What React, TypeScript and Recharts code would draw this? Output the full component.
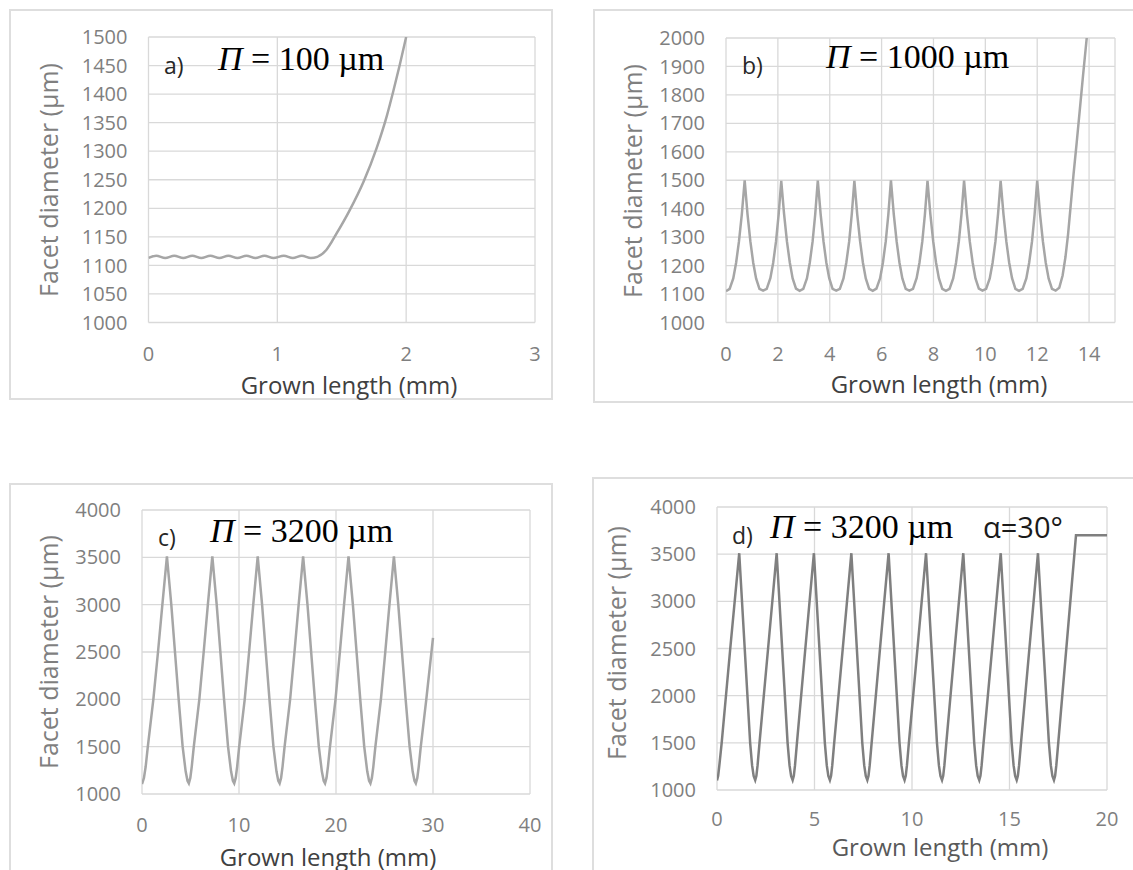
import React from "react";
import { LineChart, Line, XAxis, YAxis, CartesianGrid } from "recharts";

// a) P = 100 um
const aLen = [
  0, 0.06, 0.13, 0.2, 0.27, 0.34, 0.41, 0.48, 0.55, 0.62, 0.69, 0.76, 0.83, 0.9, 0.97, 1.05, 1.12, 1.19, 1.26,
  1.31, 1.38, 1.46, 1.56, 1.67, 1.77, 1.85, 1.9, 1.95, 2.0,
];
const aDia = [
  1113, 1117, 1113, 1117, 1113, 1117, 1113, 1117, 1113, 1117, 1113, 1117, 1113, 1117, 1113, 1117, 1113, 1117, 1113,
  1115, 1127, 1156, 1196, 1247, 1305, 1362, 1405, 1451, 1500,
];

// b) P = 1000 um
const bLen = [
  0, 0.14, 0.28, 0.39, 0.5, 0.61, 0.72, 0.83, 0.94, 1.05, 1.16, 1.29,
  1.43, 1.57, 1.71, 1.82, 1.93, 2.03, 2.13, 2.24, 2.35, 2.46, 2.57, 2.7,
  2.84, 2.98, 3.12, 3.23, 3.34, 3.44, 3.54, 3.65, 3.76, 3.87, 3.98, 4.11,
  4.25, 4.39, 4.53, 4.64, 4.75, 4.85, 4.95, 5.06, 5.17, 5.28, 5.39, 5.52,
  5.66, 5.8, 5.94, 6.05, 6.16, 6.26, 6.36, 6.47, 6.58, 6.69, 6.8, 6.93,
  7.07, 7.21, 7.35, 7.46, 7.57, 7.67, 7.77, 7.88, 7.99, 8.1, 8.21, 8.34,
  8.48, 8.62, 8.76, 8.87, 8.98, 9.08, 9.18, 9.29, 9.4, 9.51, 9.62, 9.75,
  9.89, 10.03, 10.17, 10.28, 10.39, 10.49, 10.59, 10.7, 10.81, 10.92, 11.03, 11.16,
  11.3, 11.44, 11.58, 11.69, 11.8, 11.9, 12.0, 12.11, 12.22, 12.33, 12.44, 12.57,
  12.71, 12.85, 12.98, 13.09, 13.19, 13.29, 13.4, 13.52, 13.64, 13.77, 13.91,
];
const bDia = [
  1110, 1118, 1155, 1210, 1285, 1380, 1500, 1380, 1285, 1210, 1155, 1118,
  1112, 1118, 1156, 1210, 1286, 1380, 1498, 1381, 1285, 1211, 1155, 1119,
  1111, 1118, 1155, 1210, 1285, 1380, 1499, 1380, 1285, 1210, 1156, 1118,
  1112, 1118, 1155, 1211, 1285, 1381, 1498, 1380, 1286, 1210, 1155, 1118,
  1111, 1119, 1155, 1210, 1285, 1380, 1500, 1380, 1285, 1210, 1155, 1118,
  1112, 1118, 1156, 1210, 1285, 1380, 1498, 1381, 1285, 1210, 1155, 1118,
  1111, 1118, 1155, 1210, 1286, 1380, 1499, 1380, 1285, 1211, 1155, 1119,
  1112, 1118, 1155, 1210, 1285, 1381, 1498, 1380, 1285, 1210, 1156, 1118,
  1111, 1118, 1155, 1210, 1285, 1380, 1499, 1380, 1285, 1210, 1155, 1118,
  1112, 1122, 1165, 1230, 1310, 1410, 1520, 1630, 1745, 1870, 2000,
];

// c) P = 3200 um
const cLen = [
  0, 0.2, 0.38, 0.6, 1.17, 1.65, 2.1, 2.57, 3.02, 3.4, 3.78, 4.19, 4.5, 4.69,
  4.83, 4.98, 5.13, 5.34, 5.91, 6.36, 6.79, 7.25, 7.7, 8.08, 8.46, 8.87, 9.18, 9.37,
  9.51, 9.66, 9.81, 10.02, 10.59, 11.04, 11.47, 11.93, 12.38, 12.76, 13.14, 13.55, 13.86, 14.05,
  14.19, 14.34, 14.49, 14.7, 15.27, 15.72, 16.15, 16.61, 17.06, 17.44, 17.82, 18.23, 18.54, 18.73,
  18.87, 19.02, 19.17, 19.38, 19.95, 20.4, 20.83, 21.29, 21.74, 22.12, 22.5, 22.91, 23.22, 23.41,
  23.55, 23.7, 23.85, 24.06, 24.63, 25.08, 25.51, 25.97, 26.42, 26.8, 27.18, 27.59, 27.9, 28.09,
  28.23, 28.38, 28.53, 28.74, 29.31, 30.0,
];
const cDia = [
  1105, 1170, 1290, 1500, 2000, 2500, 3000, 3510, 3000, 2500, 2000, 1500, 1240, 1140,
  1112, 1170, 1290, 1500, 2000, 2500, 3000, 3510, 3000, 2500, 2000, 1500, 1240, 1140,
  1112, 1170, 1290, 1500, 2000, 2500, 3000, 3510, 3000, 2500, 2000, 1500, 1240, 1140,
  1112, 1170, 1290, 1500, 2000, 2500, 3000, 3510, 3000, 2500, 2000, 1500, 1240, 1140,
  1112, 1170, 1290, 1500, 2000, 2500, 3000, 3510, 3000, 2500, 2000, 1500, 1240, 1140,
  1112, 1170, 1290, 1500, 2000, 2500, 3000, 3510, 3000, 2500, 2000, 1500, 1240, 1140,
  1112, 1170, 1290, 1500, 2000, 2650,
];

// d) P = 3200 um, alpha = 30 deg
const dLen = [
  0, 0.06, 0.12, 0.24, 0.68, 1.14, 1.7, 1.8, 1.88,
  1.96, 2.02, 2.08, 2.18, 2.62, 3.06, 3.62, 3.72, 3.8,
  3.88, 3.94, 4.0, 4.1, 4.53, 4.97, 5.53, 5.63, 5.71,
  5.79, 5.85, 5.91, 6.01, 6.45, 6.89, 7.45, 7.55, 7.63,
  7.71, 7.77, 7.83, 7.93, 8.36, 8.8, 9.36, 9.46, 9.54,
  9.62, 9.68, 9.74, 9.84, 10.28, 10.72, 11.28, 11.38, 11.46,
  11.54, 11.6, 11.66, 11.76, 12.19, 12.63, 13.19, 13.29, 13.37,
  13.45, 13.51, 13.57, 13.67, 14.11, 14.55, 15.11, 15.21, 15.29,
  15.37, 15.43, 15.49, 15.59, 16.02, 16.46, 17.02, 17.12, 17.2,
  17.28, 17.34, 17.4, 17.5, 18.41, 20.0,
];
const dDia = [
  1100, 1150, 1260, 1500, 2500, 3510, 1500, 1260, 1150,
  1105, 1150, 1260, 1500, 2500, 3510, 1500, 1260, 1150,
  1105, 1150, 1260, 1500, 2500, 3510, 1500, 1260, 1150,
  1105, 1150, 1260, 1500, 2500, 3510, 1500, 1260, 1150,
  1105, 1150, 1260, 1500, 2500, 3510, 1500, 1260, 1150,
  1105, 1150, 1260, 1500, 2500, 3510, 1500, 1260, 1150,
  1105, 1150, 1260, 1500, 2500, 3510, 1500, 1260, 1150,
  1105, 1150, 1260, 1500, 2500, 3510, 1500, 1260, 1150,
  1105, 1150, 1260, 1500, 2500, 3510, 1500, 1260, 1150,
  1105, 1150, 1260, 1500, 3700, 3700,
];

// axis ticks
const aXTicks = [0, 1, 2, 3];
const aYTicks = [1000, 1050, 1100, 1150, 1200, 1250, 1300, 1350, 1400, 1450, 1500];
const bXTicks = [0, 2, 4, 6, 8, 10, 12, 14];
const bYTicks = [1000, 1100, 1200, 1300, 1400, 1500, 1600, 1700, 1800, 1900, 2000];
const cXTicks = [0, 10, 20, 30, 40];
const cdYTicks = [1000, 1500, 2000, 2500, 3000, 3500, 4000];
const dXTicks = [0, 5, 10, 15, 20];

const toRows = (xs: number[], ys: number[]) => xs.map((x, i) => ({ len: x, dia: ys[i] }));

const SANS = "'Open Sans', sans-serif";
const SERIF = "'Liberation Serif', 'Times New Roman', serif";
const YW = 70;
const XH = 40;

const panels = [
  {
    id: "a",
    data: toRows(aLen, aDia),
    frame: { x: 9, y: 9, w: 544, h: 391 },
    plot: { x0: 148.5, y0: 37, x1: 535, y1: 322.5 },
    xDomain: [0, 3],
    xTicks: aXTicks,
    yDomain: [1000, 1500],
    yTicks: aYTicks,
    color: "#a6a6a6",
    curve: "monotone",
    xMargin: 18,
  },
  {
    id: "b",
    data: toRows(bLen, bDia),
    frame: { x: 593, y: 9, w: 560, h: 394 },
    plot: { x0: 726, y0: 38, x1: 1115, y1: 322.5 },
    xDomain: [0, 15],
    xTicks: bXTicks,
    yDomain: [1000, 2000],
    yTicks: bYTicks,
    color: "#a6a6a6",
    curve: "linear",
    xMargin: 18,
  },
  {
    id: "c",
    data: toRows(cLen, cDia),
    frame: { x: 9, y: 483, w: 544, h: 420 },
    plot: { x0: 142, y0: 510, x1: 530, y1: 794 },
    xDomain: [0, 40],
    xTicks: cXTicks,
    yDomain: [1000, 4000],
    yTicks: cdYTicks,
    color: "#a6a6a6",
    curve: "linear",
    xMargin: 18,
  },
  {
    id: "d",
    data: toRows(dLen, dDia),
    frame: { x: 592, y: 477, w: 560, h: 420 },
    plot: { x0: 717, y0: 507, x1: 1107, y1: 790 },
    xDomain: [0, 20],
    xTicks: dXTicks,
    yDomain: [1000, 4000],
    yTicks: cdYTicks,
    color: "#7f7f7f",
    curve: "linear",
    xMargin: 16,
  },
];

const tickStyle = { fill: "#7f7f7f", fontSize: 20, fontFamily: SANS };

function Panel({ p }: { p: any }) {
  const { frame, plot } = p;
  const margin = {
    top: plot.y0 - frame.y,
    right: frame.x + frame.w - plot.x1,
    bottom: frame.y + frame.h - plot.y1 - XH,
    left: plot.x0 - frame.x - YW,
  };
  return (
    <>
      <div
        style={{
          position: "absolute",
          left: frame.x,
          top: frame.y,
          width: frame.w,
          height: frame.h,
          boxSizing: "border-box",
          border: "2px solid #dedede",
        }}
      />
      <div style={{ position: "absolute", left: frame.x, top: frame.y }}>
        <LineChart width={frame.w} height={frame.h} data={p.data} margin={margin}>
          <CartesianGrid stroke="#d9d9d9" strokeWidth={1.3} />
          <XAxis
            dataKey="len"
            type="number"
            domain={p.xDomain}
            ticks={p.xTicks}
            interval={0}
            height={XH}
            tickLine={false}
            axisLine={false}
            tickMargin={p.xMargin}
            tick={tickStyle}
            allowDataOverflow
          />
          <YAxis
            type="number"
            domain={p.yDomain}
            ticks={p.yTicks}
            interval={0}
            width={YW}
            tickLine={false}
            axisLine={false}
            tickMargin={15}
            tick={tickStyle}
            allowDataOverflow
          />
          <Line
            dataKey="dia"
            type={p.curve}
            stroke={p.color}
            strokeWidth={2.5}
            dot={false}
            isAnimationActive={false}
          />
        </LineChart>
      </div>
    </>
  );
}

function PiLabel({ x, y, value }: { x: number; y: number; value: string }) {
  return (
    <text x={x} y={y} fontFamily={SERIF} fontSize={34} fill="#000" style={{ whiteSpace: "pre" }}>
      <tspan fontStyle="italic">Π</tspan>
      <tspan>{" = " + value + " µm"}</tspan>
    </text>
  );
}

export default function App() {
  const yTitle = (cx: number, cy: number, fill: string) => (
    <text
      x={cx}
      y={cy}
      transform={`rotate(-90, ${cx}, ${cy})`}
      textAnchor="middle"
      fontFamily={SANS}
      fontSize={25}
      fill={fill}
    >
      Facet diameter (µm)
    </text>
  );
  const xTitle = (cx: number, y: number, fill: string) => (
    <text x={cx} y={y} textAnchor="middle" fontFamily={SANS} fontSize={24} fill={fill}>
      Grown length (mm)
    </text>
  );
  return (
    <div
      style={{
        position: "absolute",
        left: 0,
        top: 0,
        width: 1133,
        height: 870,
        overflow: "hidden",
        background: "#fff",
      }}
    >
      {panels.map((p) => (
        <Panel key={p.id} p={p} />
      ))}
      <svg
        width={1133}
        height={870}
        style={{ position: "absolute", left: 0, top: 0, pointerEvents: "none" }}
      >
        {yTitle(58, 180, "#7f7f7f")}
        {yTitle(642, 181, "#7f7f7f")}
        {yTitle(58, 652, "#7f7f7f")}
        {yTitle(626, 643, "#7f7f7f")}
        {xTitle(349, 394, "#404040")}
        {xTitle(939, 393, "#404040")}
        {xTitle(328, 866, "#404040")}
        {xTitle(940, 856, "#595959")}

        <text x={164} y={74} fontFamily={SANS} fontSize={23} fill="#262626">a)</text>
        <text x={742} y={74} fontFamily={SANS} fontSize={23} fill="#262626">b)</text>
        <text x={158} y={546} fontFamily={SANS} fontSize={23} fill="#262626">c)</text>
        <text x={732} y={544} fontFamily={SANS} fontSize={23} fill="#262626">d)</text>

        <PiLabel x={218} y={70} value="100" />
        <PiLabel x={826} y={68} value="1000" />
        <PiLabel x={210} y={542} value="3200" />
        <PiLabel x={770} y={538} value="3200" />
        <text x={983} y={538} fontFamily={SANS} fontSize={29} fill="#1a1a1a">α=30°</text>
      </svg>
    </div>
  );
}
